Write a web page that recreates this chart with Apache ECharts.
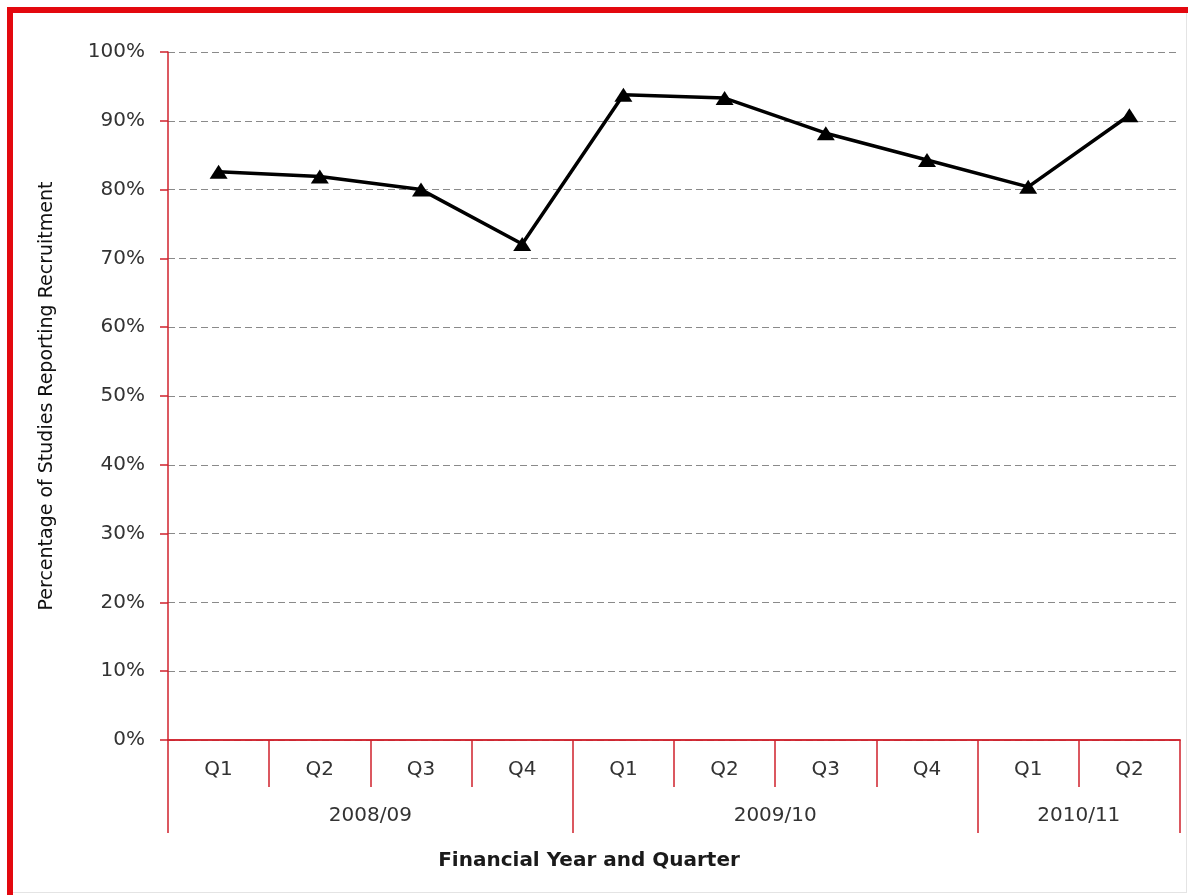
<!DOCTYPE html>
<html>
<head>
<meta charset="utf-8">
<title>Percentage of Studies Reporting Recruitment</title>
<script src="https://cdn.jsdelivr.net/npm/echarts@6/dist/echarts.min.js"></script>
<style>
  html, body { margin: 0; padding: 0; background: #ffffff; }
  #chart { width: 1188px; height: 895px; }
</style>
</head>
<body>
<div id="chart"></div>
<script>
// Financial years and how many quarters each one contributes
const fiscalYears = ['2008/09', '2009/10', '2010/11'];
const quartersPerYear = [4, 4, 2];

// Quarter labels along the inner x-axis row
const quarterLabels = ['Q1', 'Q2', 'Q3', 'Q4', 'Q1', 'Q2', 'Q3', 'Q4', 'Q1', 'Q2'];

// Percentage of studies reporting recruitment, one value per quarter
const recruitmentPct = [82.6, 81.9, 80.0, 72.1, 93.8, 93.3, 88.2, 84.3, 80.4, 90.8];

// Y-axis scale (percent)
const yMin = 0;
const yMax = 100;
const yStep = 10;

// Outer (year) row: half-quarter slots so each year label can sit at the
// middle of its span and dividers fall exactly on year boundaries.
const totalQuarters = quartersPerYear.reduce((a, b) => a + b, 0);
const yearSlots = [];
for (let i = 0; i <= totalQuarters * 2; i++) yearSlots.push(String(i));
const yearLabelAtSlot = {};
const yearDividerSlots = new Set([0, totalQuarters * 2]);
let start = 0;
fiscalYears.forEach((year, k) => {
  yearLabelAtSlot[start * 2 + quartersPerYear[k]] = year;
  yearDividerSlots.add(start * 2);
  start += quartersPerYear[k];
});

const AXIS_RED = '#d0222c';
const FONT = 'DejaVu Sans';

const chart = echarts.init(document.getElementById('chart'), null, { renderer: 'canvas' });

chart.setOption({
  backgroundColor: '#ffffff',
  animation: false,
  grid: { left: 168, right: 8, top: 52, bottom: 155, containLabel: false },
  xAxis: [
    {
      type: 'category',
      data: quarterLabels,
      boundaryGap: true,
      position: 'bottom',
      axisLine: { show: true, lineStyle: { color: AXIS_RED, width: 1.5 } },
      axisTick: { show: true, interval: 0, length: 47, lineStyle: { color: AXIS_RED, width: 1.5 } },
      axisLabel: { interval: 0, margin: 20, fontSize: 20, fontFamily: FONT, color: '#333333' },
      splitLine: { show: false }
    },
    {
      type: 'category',
      data: yearSlots,
      boundaryGap: false,
      position: 'bottom',
      offset: 0,
      name: 'Financial Year and Quarter',
      nameLocation: 'middle',
      nameGap: 111,
      nameTextStyle: {
        fontFamily: FONT, fontSize: 20, fontWeight: 'bold', color: '#1a1a1a',
        padding: [0, 170, 0, 0]
      },
      axisLine: { show: true, lineStyle: { color: AXIS_RED, width: 1.5 } },
      axisTick: {
        show: true,
        interval: (idx) => yearDividerSlots.has(idx),
        length: 93,
        lineStyle: { color: AXIS_RED, width: 1.5 }
      },
      axisLabel: {
        interval: 0,
        margin: 66,
        fontSize: 20,
        fontFamily: FONT,
        color: '#333333',
        formatter: (value, idx) => yearLabelAtSlot[idx] || ''
      },
      splitLine: { show: false }
    }
  ],
  yAxis: {
    type: 'value',
    min: yMin,
    max: yMax,
    interval: yStep,
    name: 'Percentage of Studies Reporting Recruitment',
    nameLocation: 'middle',
    nameRotate: 90,
    nameGap: 111,
    nameTextStyle: { fontFamily: FONT, fontSize: 19, color: '#111111' },
    axisLine: { show: true, lineStyle: { color: AXIS_RED, width: 1.5 } },
    axisTick: { show: true, length: 8, lineStyle: { color: AXIS_RED, width: 1.5 } },
    axisLabel: {
      margin: 23,
      fontSize: 20,
      fontFamily: FONT,
      color: '#333333',
      formatter: '{value}%'
    },
    splitLine: { show: true, lineStyle: { color: '#8a8a8a', width: 1, type: [7, 4] } }
  },
  series: [
    {
      name: 'Recruitment',
      type: 'line',
      xAxisIndex: 0,
      data: recruitmentPct,
      symbol: 'triangle',
      symbolSize: [18, 14],
      showSymbol: true,
      itemStyle: { color: '#000000' },
      lineStyle: { color: '#000000', width: 3.5 },
      z: 5
    }
  ],
  graphic: [
    // red frame along the top and left edges
    { type: 'rect', left: 7, top: 7, shape: { width: 1181, height: 6 }, style: { fill: '#e3080f' }, silent: true },
    { type: 'rect', left: 7, top: 7, shape: { width: 6, height: 888 }, style: { fill: '#e3080f' }, silent: true },
    // faint outline on the right and bottom
    { type: 'rect', left: 1186, top: 13, shape: { width: 1, height: 880 }, style: { fill: '#e4e4e4' }, silent: true },
    { type: 'rect', left: 13, top: 892, shape: { width: 1174, height: 1 }, style: { fill: '#e4e4e4' }, silent: true }
  ]
});
</script>
</body>
</html>
